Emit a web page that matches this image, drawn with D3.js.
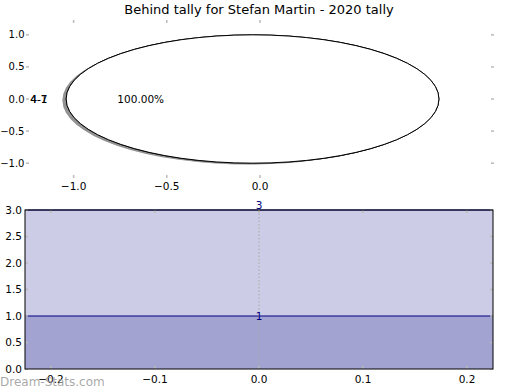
<!DOCTYPE html>
<html><head><meta charset="utf-8">
<script src="https://cdn.jsdelivr.net/npm/d3@7"></script>
<style>body{margin:0;background:#fff}svg{display:block}text{font-family:"DejaVu Sans",sans-serif}</style>
</head><body>
<svg id="c" width="520" height="390"></svg>
<script>
const title = "Behind tally for Stefan Martin - 2020 tally";
const pieLabels = ["4-1", "4-7"];
const pieValues = [1, 1];
const pieXTicks = [-1.0, -0.5, 0.0];
const pieYTicks = [-1.0, -0.5, 0.0, 0.5, 1.0];
const tallyLevels = [3, 1];
const barXTicks = [-0.2, -0.1, 0.0, 0.1, 0.2];
const barYTicks = [0, 0.5, 1.0, 1.5, 2.0, 2.5, 3.0];

const svg = d3.select("#c");
const fmt = d => d3.format(".1f")(d).replace("-", "\u2212");
const tickCol = "#bbbbbb";
const fs = 10.5;

svg.append("text").attr("x", 259).attr("y", 14).attr("text-anchor", "middle")
  .attr("font-size", 13).text(title);

// ---- Top: pie (one full pie per label, drawn on top of each other) ----
const px = d3.scaleLinear().domain([-1.25, 1.25]).range([27, 493]);
const py = d3.scaleLinear().domain([-1.2, 1.2]).range([176, 22]);
const gTop = svg.append("g");
pieYTicks.forEach(v => {
  gTop.append("line").attr("x1", 26).attr("x2", 29).attr("y1", py(v)).attr("y2", py(v)).attr("stroke", tickCol).attr("stroke-width", 1.5);
  gTop.append("line").attr("x1", 491).attr("x2", 494).attr("y1", py(v)).attr("y2", py(v)).attr("stroke", tickCol).attr("stroke-width", 1.5);
  gTop.append("text").attr("x", 24.5).attr("y", py(v)).attr("dy", "0.35em").attr("text-anchor", "end").attr("font-size", 10).text(fmt(v));
});
pieXTicks.forEach(v => {
  gTop.append("line").attr("x1", px(v)).attr("x2", px(v)).attr("y1", 20).attr("y2", 23).attr("stroke", tickCol).attr("stroke-width", 1.5);
  gTop.append("line").attr("x1", px(v)).attr("x2", px(v)).attr("y1", 175).attr("y2", 178).attr("stroke", tickCol).attr("stroke-width", 1.5);
  gTop.append("text").attr("x", px(v)).attr("y", 186).attr("dy", "0.35em").attr("text-anchor", "middle").attr("font-size", fs).text(fmt(v));
});
const cx = -0.04, cy = 0;
const rx = px(1) - px(0), ry = py(0) - py(1);
pieValues.forEach((val, i) => {
  const pie = d3.pie().sort(null).startAngle(Math.PI / 2).endAngle(Math.PI / 2 + 2 * Math.PI)([val]);
  const total = val;
  gTop.append("ellipse").attr("cx", px(cx - 0.02)).attr("cy", py(cy - 0.02)).attr("rx", rx).attr("ry", ry)
    .attr("fill", "#555").attr("opacity", 0.4);
  pie.forEach(d => {
    const arc = d3.arc().innerRadius(0).outerRadius(1).startAngle(d.startAngle).endAngle(d.endAngle);
    gTop.append("path").attr("d", arc())
      .attr("transform", `translate(${px(cx)},${py(cy)}) scale(${rx},${ry})`)
      .attr("fill", "#fff").attr("stroke", "#000").attr("stroke-width", 1).attr("vector-effect", "non-scaling-stroke");
    const mid = (d.startAngle + d.endAngle) / 2;
    const ang = Math.PI / 2 - mid;
    const lx = cx + 1.1 * Math.cos(ang), ly = cy + 1.1 * Math.sin(ang);
    gTop.append("text").attr("x", px(lx)).attr("y", py(ly)).attr("dy", "0.35em")
      .attr("text-anchor", Math.cos(ang) < 0 ? "end" : "start").attr("font-size", fs).text(pieLabels[i]);
    const tx = cx + 0.6 * Math.cos(ang), ty = cy + 0.6 * Math.sin(ang);
    gTop.append("text").attr("x", px(tx)).attr("y", py(ty)).attr("dy", "0.35em")
      .attr("text-anchor", "middle").attr("font-size", fs).text((100 * d.value / total).toFixed(2) + "%");
  });
});

// ---- Bottom: tally ----
const bx = d3.scaleLinear().domain([-0.225, 0.225]).range([25, 493]);
const by = d3.scaleLinear().domain([0, 3]).range([369, 210]);
const bot = svg.append("g");
tallyLevels.forEach(v => {
  bot.append("rect").attr("x", bx(-0.225)).attr("width", bx(0.225) - bx(-0.225))
    .attr("y", by(v)).attr("height", by(0) - by(v)).attr("fill", "#000080").attr("fill-opacity", 0.2);
});
tallyLevels.forEach(v => {
  bot.append("line").attr("x1", bx(-0.225)).attr("x2", bx(0.225)).attr("y1", by(v)).attr("y2", by(v))
    .attr("stroke", "#000080").attr("stroke-width", 1);
});
bot.append("line").attr("x1", bx(0)).attr("x2", bx(0)).attr("y1", by(3)).attr("y2", by(0))
  .attr("stroke", "#aaa").attr("stroke-dasharray", "1.5,2").attr("stroke-width", 1);
barYTicks.forEach(v => {
  bot.append("line").attr("x1", 25).attr("x2", 28).attr("y1", by(v)).attr("y2", by(v)).attr("stroke", tickCol).attr("stroke-width", 1.5);
  bot.append("line").attr("x1", 490).attr("x2", 493).attr("y1", by(v)).attr("y2", by(v)).attr("stroke", tickCol).attr("stroke-width", 1.5);
  bot.append("text").attr("x", 22).attr("y", by(v)).attr("dy", "0.35em").attr("text-anchor", "end").attr("font-size", fs).text(fmt(v));
});
barXTicks.forEach(v => {
  bot.append("line").attr("x1", bx(v)).attr("x2", bx(v)).attr("y1", 210).attr("y2", 213).attr("stroke", tickCol).attr("stroke-width", 1.5);
  bot.append("line").attr("x1", bx(v)).attr("x2", bx(v)).attr("y1", 366).attr("y2", 369).attr("stroke", tickCol).attr("stroke-width", 1.5);
  bot.append("text").attr("x", bx(v)).attr("y", 379).attr("dy", "0.35em").attr("text-anchor", "middle").attr("font-size", fs).text(fmt(v));
});
bot.append("rect").attr("x", 25).attr("y", 210).attr("width", 468).attr("height", 159)
  .attr("fill", "none").attr("stroke", "#000").attr("stroke-width", 1);
tallyLevels.forEach((v, i) => {
  bot.append("text").attr("x", bx(0)).attr("y", by(v)).attr("dy", i === 0 ? "-0.1em" : "0.35em")
    .attr("text-anchor", "middle").attr("font-size", fs).attr("fill", "#000080").text(v);
});

svg.append("text").attr("x", 0).attr("y", 386).attr("font-size", 12).attr("fill", "#999").attr("fill-opacity", 0.85).text("Dream-Stats.com");
</script>
</body></html>
